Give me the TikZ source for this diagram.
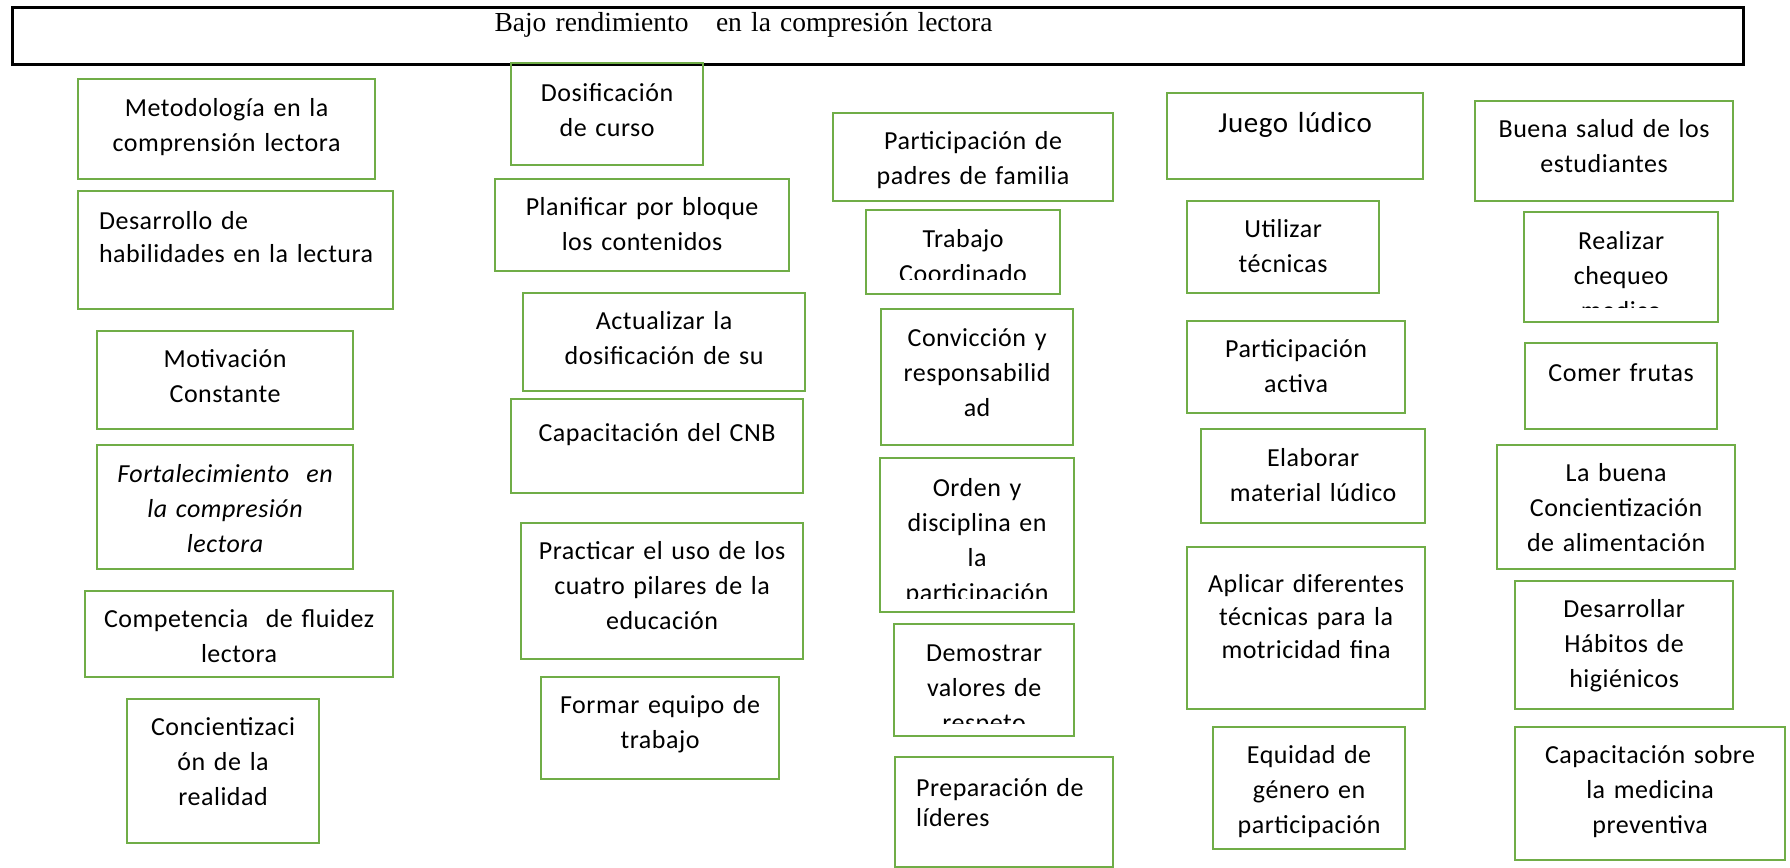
\documentclass[tikz,border=0pt]{standalone}
\usepackage{fontspec}
\setmainfont{Carlito}[LetterSpace=2]
\newfontfamily\titulofont{Liberation Serif}
\definecolor{verde}{RGB}{112,173,71}

\tikzset{
    tam/.style n args={3}{
        text width=#1pt,
        text height=#3pt,
        text depth=\dimexpr #2pt-#3pt\relax
    }
}

\begin{document}
\begin{tikzpicture}[
        x=1pt, y=-1pt,
        caja/.style={
            rectangle,
            draw=verde,
            line width=2.2pt,
            inner sep=0pt,
            anchor=north west,
            align=center,
            font=\fontsize{26}{35}\selectfont
        },
        borde/.style={
            draw=verde,
            line width=2.2pt
        },
        titulo/.style={
            rectangle,
            draw=black,
            line width=3pt,
            inner sep=0pt,
            anchor=north west,
            align=left,
            font=\titulofont\fontsize{27.5}{30}\selectfont
        }
    ]
    \useasboundingbox (0,0) rectangle (1790,867);

    % Titulo
    \node[titulo, tam={1731}{57}{24.5}] (titulo) at (11,6) {\hspace*{482pt}Bajo rendimiento\ \ \ en la compresión lectora};

    % Columna 1
    \node[caja, tam={297}{100}{37.5}] (metodologia) at (77,78) {Metodología en la\\comprensión lectora};
    \node[caja, align=left, tam={315}{118}{38.5}] (desarrollo) at (77,190) {\hspace*{21pt}Desarrollo de\\[-2pt]\hspace*{21pt}habilidades en la lectura};
    \node[caja, tam={256}{98}{36.5}] (motivacion) at (96,330) {Motivación\\Constante};
    \node[caja, font=\fontsize{26}{35}\selectfont\itshape, tam={256}{124}{37.5}] (fortalecimiento) at (96,444) {Fortalecimiento\ \ en\\la compresión\\lectora};
    \node[caja, tam={308}{86}{36.5}] (competencia) at (84,590) {Competencia\ \ de fluidez\\lectora};
    \node[caja, tam={192}{144}{36.5}] (concientizacion) at (126,698) {Concientizaci\\ón de la\\realidad};

    % Columna 2
    \node[caja, tam={192}{102}{38.5}] (dosificacion) at (510,62) {Dosificación\\de curso};
    \node[caja, tam={294}{92}{36.5}] (planificar) at (494,178) {Planificar por bloque\\los contenidos};
    \node[caja, tam={282}{98}{36.5}] (actualizar) at (522,292) {Actualizar la\\dosificación de su};
    \node[caja, tam={292}{94}{42.5}] (cnb) at (510,398) {Capacitación del CNB};
    \node[caja, tam={282}{136}{36.5}] (practicar) at (520,522) {Practicar el uso de los\\cuatro pilares de la\\educación};
    \node[caja, tam={238}{102}{36.5}] (formar) at (540,676) {Formar equipo de\\trabajo};

    % Columna 3
    \node[caja, tam={280}{88}{36.5}] (padres) at (832,112) {Participación de\\padres de familia};
    \begin{scope}
        \clip (860,200) rectangle (1064,279);
        \node[caja, draw=none, tam={192}{82}{36.5}] (trabajo) at (866,210) {Trabajo\\Coordinado};
    \end{scope}
    \draw[borde] (trabajo.north west) rectangle (trabajo.south east);
    \node[caja, tam={192}{136}{37.5}] (conviccion) at (880,308) {Convicción y\\responsabilid\\ad};
    \begin{scope}
        \clip (874,450) rectangle (1078,598);
        \node[caja, draw=none, tam={192}{152}{37.5}] (orden) at (880,458) {Orden y\\disciplina en\\la\\participación};
    \end{scope}
    \draw[borde] (orden.north west) rectangle (orden.south east);
    \begin{scope}
        \clip (888,616) rectangle (1078,723);
        \node[caja, draw=none, tam={178}{110}{36.5}] (demostrar) at (894,624) {Demostrar\\valores de\\respeto};
    \end{scope}
    \draw[borde] (demostrar.north west) rectangle (demostrar.south east);
    \node[caja, align=left, tam={218}{110}{39.5}] (lideres) at (894,756) {\hspace*{21pt}Preparación de\\[-5pt]\hspace*{21pt}líderes};

    % Columna 4
    \node[caja, font=\fontsize{29}{35}\selectfont, tam={256}{86}{39.5}] (juego) at (1166,92) {Juego lúdico};
    \node[caja, tam={192}{92}{36.5}] (utilizar) at (1186,200) {Utilizar\\técnicas};
    \node[caja, tam={218}{92}{36.5}] (activa) at (1186,320) {Participación\\activa};
    \node[caja, tam={224}{94}{37.5}] (elaborar) at (1200,428) {Elaborar\\material lúdico};
    \node[caja, tam={238}{162}{45.5}] (aplicar) at (1186,546) {Aplicar diferentes\\[-2pt]técnicas para la\\[-2pt]motricidad fina};
    \node[caja, tam={192}{122}{36.5}] (equidad) at (1212,726) {Equidad de\\género en\\participación};

    % Columna 5
    \node[caja, tam={258}{100}{36.5}] (salud) at (1474,100) {Buena salud de los\\estudiantes};
    \begin{scope}
        \clip (1518,204) rectangle (1722,307);
        \node[caja, draw=none, tam={192}{108}{36.5}] (chequeo) at (1524,212) {Realizar\\chequeo\\medico};
    \end{scope}
    \draw[borde] (chequeo.north west) rectangle (chequeo.south east);
    \node[caja, tam={192}{86}{38.5}] (frutas) at (1524,342) {Comer frutas};
    \node[caja, tam={238}{124}{36.5}] (alimentacion) at (1496,444) {La buena\\Concientización\\de alimentación};
    \node[caja, tam={218}{128}{36.5}] (habitos) at (1514,580) {Desarrollar\\Hábitos de\\higiénicos};
    \node[caja, tam={270}{133}{36.5}] (preventiva) at (1514,726) {Capacitación sobre\\la medicina\\preventiva};

\end{tikzpicture}
\end{document}
